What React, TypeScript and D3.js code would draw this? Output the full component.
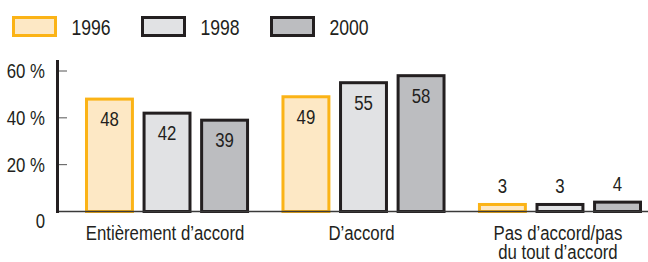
import React from 'react';
import * as d3 from 'd3';

const categories = [['Entièrement d’accord'], ['D’accord'], ['Pas d’accord/pas', 'du tout d’accord']];
const years = ['1996', '1998', '2000'];
const values1996 = [48, 49, 3];
const values1998 = [42, 55, 3];
const values2000 = [39, 58, 4];
const yTicks = [0, 20, 40, 60];

const fills = ['#fde8c5', '#e1e2e4', '#bcbdc0'];
const strokes = ['#fbb316', '#231f20', '#231f20'];
const ink = '#231f20';
const font = '"Liberation Sans", Arial, sans-serif';

// condensed look: Liberation Sans squeezed horizontally
function CText({ x, y, size, anchor = 'start', children }: any) {
  return (
    <text
      transform={`translate(${x},${y}) scale(0.8,1)`}
      textAnchor={anchor}
      fontFamily={font}
      fontSize={size}
      fill={ink}
    >{children}</text>
  );
}

export default function App() {
  const width = 648;
  const height = 262;
  const series = [values1996, values1998, values2000];

  const x0 = d3.scaleBand<number>()
    .domain(d3.range(categories.length))
    .range([85, 642])
    .paddingInner(0.165)
    .paddingOuter(0);
  const groupW = x0.bandwidth();
  const x1 = d3.scaleBand<number>()
    .domain(d3.range(years.length))
    .range([0, groupW])
    .paddingInner(0.15)
    .paddingOuter(0);
  const y = d3.scaleLinear().domain([0, 60]).range([211.5, 71]);

  const sw = 3;

  return (
    <svg width={width} height={height} style={{ position: 'absolute', left: 0, top: 0 }}>
      {/* legend */}
      {years.map((yr, i) => (
        <g key={yr} transform={`translate(${13.5 + i * 129},17.5)`}>
          <rect width={42} height={18} fill={fills[i]} stroke={strokes[i]} strokeWidth={sw} />
          <CText x={58} y={17} size={22}>{yr}</CText>
        </g>
      ))}

      {/* y axis */}
      {yTicks.map(t => (
        <g key={t}>
          {t > 0 && <line x1={58} x2={67} y1={y(t)} y2={y(t)} stroke="#555" strokeWidth={1} />}
          <CText x={45} y={t === 0 ? y(t) + 16 : y(t) + 7} size={21} anchor="end">
            {t === 0 ? '0' : `${t} %`}
          </CText>
        </g>
      ))}

      {/* bars */}
      {categories.map((cat, ci) => (
        <g key={ci} transform={`translate(${x0(ci)},0)`}>
          {series.map((vals, si) => {
            const v = vals[ci];
            const bx = x1(si)! + sw / 2;
            const bw = x1.bandwidth() - sw;
            const by = y(v);
            const bh = y(0) - y(v);
            const inside = v > 10;
            return (
              <g key={si}>
                <rect x={bx} y={by} width={bw} height={bh} fill={fills[si]} stroke={strokes[si]} strokeWidth={sw} />
                <CText
                  x={x1(si)! + x1.bandwidth() / 2}
                  y={inside ? y(v) + 27 : y(v) - 11}
                  size={21}
                  anchor="middle"
                >{v}</CText>
              </g>
            );
          })}
          {cat.map((line, li) => (
            <CText key={li} x={groupW / 2 - 2} y={240 + li * 19} size={21} anchor="middle">
              {line}
            </CText>
          ))}
        </g>
      ))}

      {/* baseline and axis line */}
      <line x1={57} x2={648} y1={211.5} y2={211.5} stroke="#3a3a3a" strokeWidth={1.5} />
      <line x1={57.5} x2={57.5} y1={60} y2={213} stroke={ink} strokeWidth={3} />
    </svg>
  );
}
